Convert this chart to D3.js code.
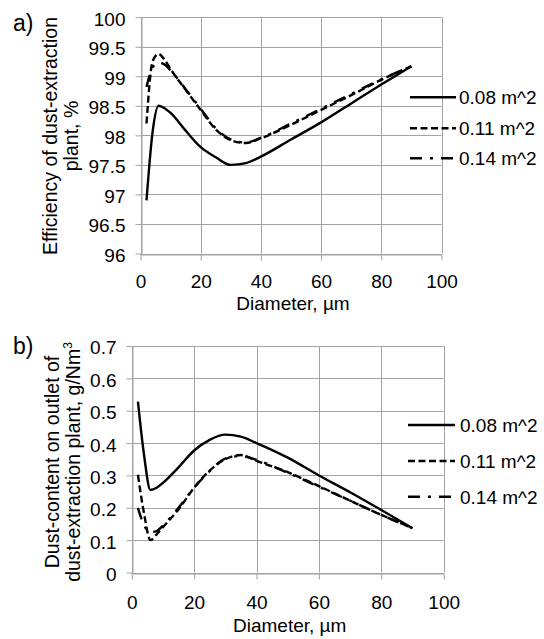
<!DOCTYPE html>
<html>
<head>
<meta charset="utf-8">
<script src="https://cdn.jsdelivr.net/npm/d3@7"></script>
<style>
  html, body { margin: 0; padding: 0; background: #fff; }
  svg { display: block; }
  text { font-family: "Liberation Sans", Arial, sans-serif; fill: #000; }
</style>
</head>
<body>
<svg id="chart" width="544" height="639"></svg>
<script>
// ---- Data ----
const diameters = [2, 4, 6, 8, 10, 15, 20, 25, 30, 35, 40, 50, 60, 70, 80, 90];
const seriesNames = ["0.08 m^2", "0.11 m^2", "0.14 m^2"];

// Efficiency of dust-extraction plant, %
const eff008 = [96.90, 98.05, 98.50, 98.46, 98.38, 98.08, 97.80, 97.63, 97.50, 97.53, 97.64, 97.93, 98.22, 98.54, 98.86, 99.17];
const eff011 = [98.20, 99.25, 99.38, 99.28, 99.12, 98.77, 98.43, 98.10, 97.92, 97.87, 97.95, 98.18, 98.43, 98.68, 98.94, 99.17];
const eff014 = [98.82, 99.15, 99.23, 99.20, 99.10, 98.78, 98.45, 98.12, 97.93, 97.88, 97.96, 98.20, 98.45, 98.70, 98.95, 99.17];

// Dust-content on outlet, g/Nm3
const dust008 = [0.528, 0.360, 0.255, 0.262, 0.277, 0.325, 0.377, 0.410, 0.426, 0.420, 0.400, 0.355, 0.300, 0.248, 0.193, 0.137];
const dust011 = [0.302, 0.180, 0.100, 0.118, 0.140, 0.195, 0.262, 0.315, 0.350, 0.363, 0.345, 0.310, 0.267, 0.222, 0.178, 0.137];
const dust014 = [0.200, 0.145, 0.125, 0.128, 0.145, 0.200, 0.262, 0.313, 0.352, 0.360, 0.348, 0.308, 0.265, 0.222, 0.178, 0.137];

const xTicks = [0, 20, 40, 60, 80, 100];
const effTicks = [96, 96.5, 97, 97.5, 98, 98.5, 99, 99.5, 100];
const dustTicks = [0, 0.1, 0.2, 0.3, 0.4, 0.5, 0.6, 0.7];

// ---- Styles ----
const dashStyles = [null, "7,3.5", "12,8,3,8"];
const gridColor = "#a3a3a3";
const fontSize = 19;

const svg = d3.select("#chart");
svg.append("rect").attr("width", 544).attr("height", 639).attr("fill", "#fff");

function panel(cfg) {
  const g = svg.append("g");
  const x = d3.scaleLinear().domain([0, 100]).range([cfg.left, cfg.right]);
  const y = d3.scaleLinear().domain(cfg.yDomain).range([cfg.bottom, cfg.top]);

  // gridlines
  g.append("g").selectAll("line.h").data(cfg.yTicks).join("line")
    .attr("x1", cfg.left).attr("x2", cfg.right)
    .attr("y1", d => Math.round(y(d)) + 0.5).attr("y2", d => Math.round(y(d)) + 0.5)
    .attr("stroke", gridColor).attr("stroke-width", 1);
  g.append("g").selectAll("line.v").data(xTicks).join("line")
    .attr("y1", cfg.top).attr("y2", cfg.bottom)
    .attr("x1", d => Math.round(x(d)) + 0.5).attr("x2", d => Math.round(x(d)) + 0.5)
    .attr("stroke", gridColor).attr("stroke-width", 1);

  // axes
  const ya = g.append("g").attr("transform", `translate(${Math.round(cfg.left) + 0.5},0)`)
    .call(d3.axisLeft(y).tickValues(cfg.yTicks).tickSize(6).tickSizeOuter(0)
      .tickPadding(10).tickFormat(d => String(d)));
  const xa = g.append("g").attr("transform", `translate(0,${Math.round(cfg.bottom) + 0.5})`)
    .call(d3.axisBottom(x).tickValues(xTicks).tickSize(6).tickSizeOuter(0)
      .tickPadding(cfg.xPad).tickFormat(d => String(d)));
  [ya, xa].forEach(a => {
    a.select(".domain").attr("stroke", gridColor);
    a.selectAll(".tick line").attr("stroke", gridColor);
    a.selectAll(".tick text").attr("font-size", fontSize)
      .attr("font-family", '"Liberation Sans", Arial, sans-serif').attr("fill", "#000");
  });
  ya.selectAll(".tick text").attr("dy", "0.42em");

  // lines
  const line = d3.line().x((d, i) => x(diameters[i])).y(d => y(d)).curve(d3.curveMonotoneX);
  cfg.series.forEach((s, k) => {
    const p = g.append("path").attr("d", line(s)).attr("fill", "none")
      .attr("stroke", "#000").attr("stroke-width", 2.4).attr("stroke-linejoin", "round");
    if (dashStyles[k]) p.attr("stroke-dasharray", dashStyles[k]);
  });

  // legend
  seriesNames.forEach((name, k) => {
    const ly = cfg.legendY[k];
    const l = g.append("line").attr("x1", cfg.legX1).attr("x2", cfg.legX2)
      .attr("y1", ly).attr("y2", ly).attr("stroke", "#000").attr("stroke-width", 2.4);
    if (dashStyles[k]) l.attr("stroke-dasharray", dashStyles[k]);
    g.append("text").attr("x", cfg.legText).attr("y", ly).attr("dy", "0.36em")
      .attr("font-size", fontSize).text(name);
  });

  // x title
  g.append("text").attr("x", (cfg.left + cfg.right) / 2 + 2).attr("y", cfg.xTitleY)
    .attr("text-anchor", "middle").attr("font-size", fontSize).text("Diameter, µm");

  // y title (two lines, rotated)
  const cy = cfg.yTitleCenter;
  cfg.yTitle.forEach((t, i) => {
    const tx = g.append("text")
      .attr("transform", `translate(${cfg.yTitleX[i]},${cy}) rotate(-90)`)
      .attr("text-anchor", "middle").attr("font-size", 19.5);
    if (Array.isArray(t)) {
      tx.append("tspan").text(t[0]);
      tx.append("tspan").attr("font-size", 12).attr("dy", -8).text(t[1]);
    } else tx.text(t);
  });

  // panel letter
  g.append("text").attr("x", 13).attr("y", cfg.letterY)
    .attr("font-family", '"Liberation Serif", "DejaVu Serif", serif')
    .attr("font-size", 23).text(cfg.letter);
}

panel({
  left: 140.5, right: 441.5, top: 17.2, bottom: 253.5,
  yDomain: [96, 100], yTicks: effTicks,
  series: [eff008, eff011, eff014],
  xPad: 14, xTitleY: 310,
  legendY: [97.3, 128.3, 158.3], legX1: 410, legX2: 456, legText: 459,
  yTitle: ["Efficiency of dust-extraction", "plant, %"],
  yTitleX: [57, 78], yTitleCenter: 136,
  letter: "a)", letterY: 31
});

panel({
  left: 131.7, right: 443.7, top: 346, bottom: 572.5,
  yDomain: [0, 0.7], yTicks: dustTicks,
  series: [dust008, dust011, dust014],
  xPad: 16, xTitleY: 632,
  legendY: [425, 461, 496.7], legX1: 408, legX2: 455, legText: 460,
  yTitle: ["Dust-content on outlet of", ["dust-extraction plant, g/Nm", "3"]],
  yTitleX: [59, 80], yTitleCenter: 462,
  letter: "b)", letterY: 354
});
</script>
</body>
</html>
